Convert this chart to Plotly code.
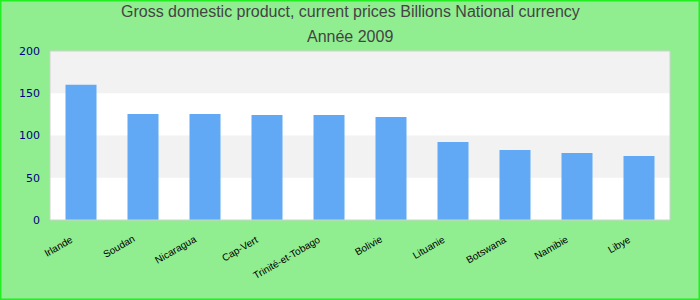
import plotly.graph_objects as go

categories = ["Irlande", "Soudan", "Nicaragua", "Cap-Vert", "Trinité-et-Tobago",
              "Bolivie", "Lituanie", "Botswana", "Namibie", "Libye"]
values = [160.0, 125.5, 125.4, 124.3, 124.2, 121.9, 92.3, 82.8, 79.3, 75.7]
y_ticks = [0, 50, 100, 150, 200]
title_lines = ["Gross domestic product, current prices Billions National currency", "Année 2009"]

W, H = 700, 300
ML, MR, MT, MB = 50, 30, 51, 80
pw, ph = W - ML - MR, H - MT - MB

fig = go.Figure(go.Bar(x=categories, y=values, marker_color="#61a9f5",
                       marker_line_width=0, width=0.5))

shapes = []
for i in range(len(y_ticks) - 1):
    if i % 2 == 1:
        shapes.append(dict(type="rect", xref="paper", yref="y", x0=0, x1=1,
                           y0=y_ticks[i], y1=y_ticks[i + 1], fillcolor="#f2f2f2",
                           line_width=0, layer="below"))
shapes.append(dict(type="rect", xref="paper", yref="paper", x0=0, x1=1, y0=0, y1=1,
                   line=dict(color="#d0d0d0", width=1), layer="above"))
shapes.append(dict(type="rect", xref="paper", yref="paper",
                   x0=-(ML - 0.75) / pw, x1=1 + (MR - 0.75) / pw,
                   y0=-(MB - 0.75) / ph, y1=1 + (MT - 0.75) / ph,
                   line=dict(color="#22ee22", width=1.5), layer="above"))

title_y = [12, 36]
annotations = []
for txt, yy in zip(title_lines, title_y):
    annotations.append(dict(text=txt, xref="paper", yref="paper",
                            x=(350 - ML) / pw, y=1 + (MT - yy) / ph,
                            xanchor="center", yanchor="middle", showarrow=False,
                            font=dict(family="Liberation Sans, Arial", size=16, color="#444444")))
for c in categories:
    annotations.append(dict(text=c, xref="x", yref="paper", x=c, y=0,
                            xanchor="right", yanchor="top", xshift=-4, yshift=-11,
                            textangle=-30, showarrow=False,
                            font=dict(family="Liberation Sans, Arial", size=10, color="#000000")))

fig.update_layout(
    width=W, height=H,
    margin=dict(l=ML, r=MR, t=MT, b=MB),
    paper_bgcolor="#90ee90",
    plot_bgcolor="#ffffff",
    showlegend=False,
    shapes=shapes,
    annotations=annotations,
    xaxis=dict(range=[-0.5, len(categories) - 0.5], showticklabels=False,
               showgrid=False, showline=False, ticks=""),
    yaxis=dict(range=[0, 200], tickvals=y_ticks, showgrid=False, zeroline=False,
               showline=False, ticks="", ticklabelstandoff=9,
               tickfont=dict(family="DejaVu Sans, Verdana", size=11, color="#000080")),
)

fig.write_html("out.html")
